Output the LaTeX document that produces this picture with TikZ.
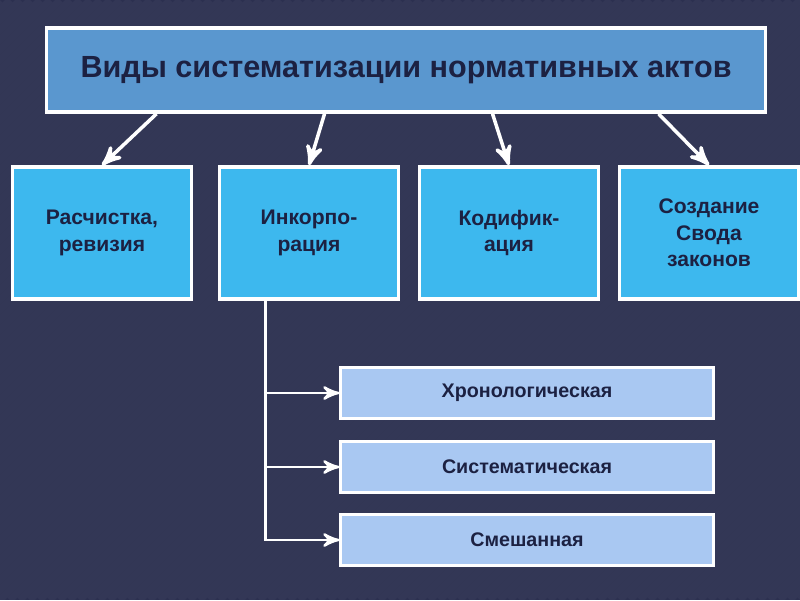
\documentclass[tikz,border=0pt]{standalone}
\usepackage{fontspec}
\setmainfont{Liberation Sans}
\usetikzlibrary{arrows,positioning,calc}
\definecolor{bgnavy}{HTML}{2C3050}
\definecolor{titleblue}{HTML}{5A97CF}
\definecolor{kindcyan}{HTML}{3DB8EE}
\definecolor{sublight}{HTML}{A9C8F2}
\definecolor{inkdark}{HTML}{1C2142}
\tikzset{
  kindbox/.style={draw=white,line width=1pt,fill=kindcyan,minimum width=1.79cm,minimum height=1.32cm,align=center,font=\bfseries\fontsize{6}{7.5}\selectfont,text=inkdark},
  subbox/.style={draw=white,line width=0.8pt,fill=sublight,minimum width=3.72cm,minimum height=0.51cm,font=\bfseries\fontsize{5.6}{7}\selectfont,text=inkdark},
  link/.style={draw=white,line width=1pt,->,>=stealth'}
}
\begin{document}
\begin{tikzpicture}[x=0.01cm,y=-0.01cm]
\fill[bgnavy] (0,0) rectangle (800,600);
\useasboundingbox (0,0) rectangle (800,600);
%% stripes
\foreach \i in {-600,-590,...,800}
  \draw[white,opacity=0.035,line width=2pt] (\i,600) -- ++(600,-600);
%% title
\node[draw=white,line width=1pt,fill=titleblue,minimum width=7.19cm,minimum height=0.84cm,font=\bfseries\fontsize{8.7}{10}\selectfont,text=inkdark] (title) at (406,70) {Виды систематизации нормативных актов};
%% kinds
\node[kindbox] (clean) at (102,233) {Расчистка,\\ревизия};
\node[kindbox] (incorp) at (309,233) {Инкорпо-\\рация};
\node[kindbox] (codif) at (509,233) {Кодифик-\\ация};
\node[kindbox] (code) at (709,233) {Создание\\Свода\\законов};
\draw[link] ($(title.south west)+(112,0)$) -- (clean.north);
\draw[link] ($(title.south west)+(280,0)$) -- (incorp.north);
\draw[link] ($(title.south west)+(448,0)$) -- (codif.north);
\draw[link] ($(title.south west)+(614,0)$) -- (code.north);
%% incorporation kinds
\node[subbox] (chrono) at (527,393) {Хронологическая};
\node[subbox] (syst) at (527,467) {Систематическая};
\node[subbox] (mixed) at (527,540) {Смешанная};
\coordinate (trunk) at ($(incorp.south west)+(48,0)$);
\draw[white,line width=0.7pt] (trunk) |- (mixed.west);
\foreach \s in {chrono,syst,mixed}
  \draw[link,line width=0.7pt] (trunk |- \s.west) -- (\s.west);
\end{tikzpicture}
\end{document}
